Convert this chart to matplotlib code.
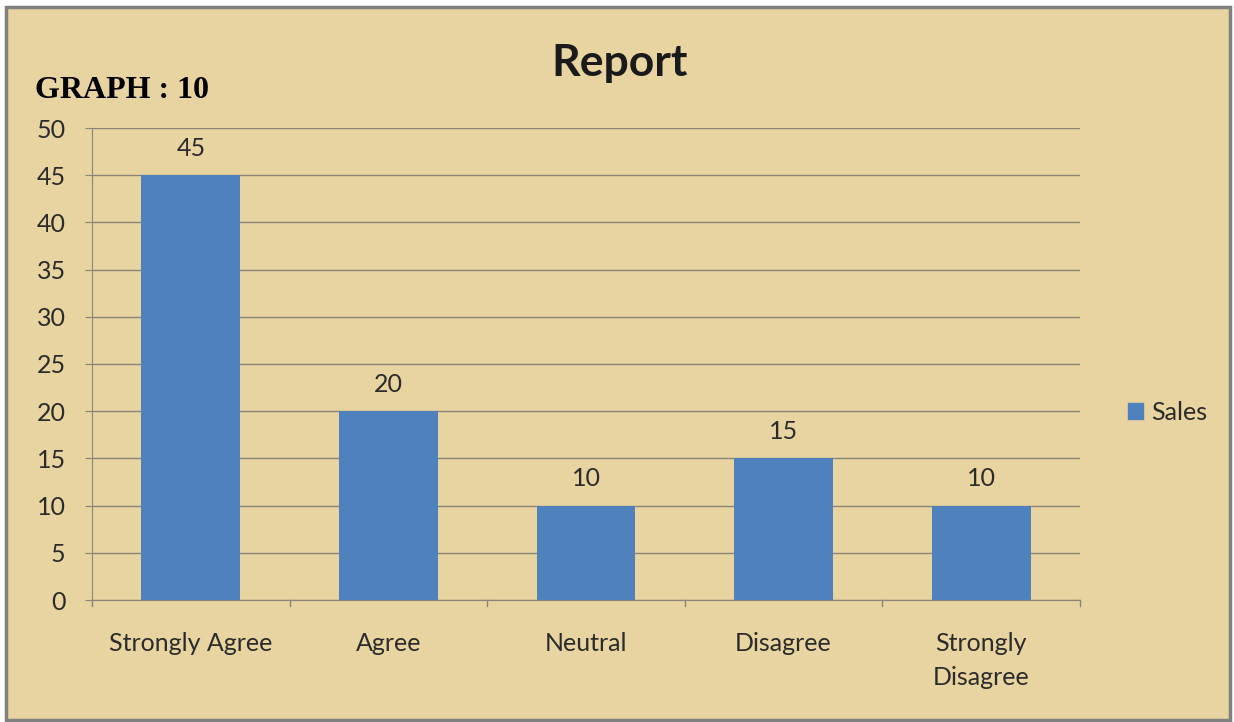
import matplotlib.pyplot as plt
from matplotlib.patches import Rectangle, Patch

# data
categories = ['Strongly Agree', 'Agree', 'Neutral', 'Disagree', 'Strongly\nDisagree']
sales = [45, 20, 10, 15, 10]
y_ticks = [0, 5, 10, 15, 20, 25, 30, 35, 40, 45, 50]

paper = '#e8d4a0'
bar_blue = '#4f81bd'
grid_gray = '#8a8478'
text_col = '#2b2b2b'
fs = 18

plt.rcParams['font.family'] = ['Lato', 'DejaVu Sans']

fig = plt.figure(figsize=(12.34, 7.22), dpi=100, facecolor='white')

# chart area background with gray frame
bg = Rectangle((6 / 1234, 2 / 722), 1224 / 1234, 713 / 722,
               transform=fig.transFigure, facecolor=paper,
               edgecolor='#808080', linewidth=2.5, zorder=-1)
fig.add_artist(bg)

ax = fig.add_axes([92 / 1234, 1 - 600 / 722, 988 / 1234, 472 / 722])
ax.set_facecolor('none')
ax.set_zorder(1)

x = range(len(categories))
bars = ax.bar(x, sales, width=0.5, color=bar_blue, zorder=3)

ax.set_xlim(-0.5, len(categories) - 0.5)
ax.set_ylim(0, 50)
ax.set_yticks(y_ticks)
ax.yaxis.grid(True, color=grid_gray, linewidth=1.0, zorder=1)

for b, v in zip(bars, sales):
    ax.text(b.get_x() + b.get_width() / 2, v + 1.6, str(v), ha='center', va='bottom',
            fontsize=fs, color=text_col)

# category labels between boundary ticks
ax.set_xticks(list(x))
ax.set_xticklabels(categories, fontsize=fs, color=text_col, va='top', linespacing=1.6)
ax.tick_params(axis='x', length=0, pad=23)
for b in [i - 0.5 for i in range(len(categories) + 1)]:
    ax.plot([b, b], [0, -0.012], transform=ax.get_xaxis_transform(), color=grid_gray,
            linewidth=1.0, clip_on=False)

ax.tick_params(axis='y', labelsize=fs, labelcolor=text_col, length=5, color=grid_gray, pad=14)

for side in ['top', 'right']:
    ax.spines[side].set_visible(False)
ax.spines['left'].set_color(grid_gray)
ax.spines['bottom'].set_color(grid_gray)

fig.text(620 / 1234, 1 - 63 / 722, 'Report', ha='center', va='center', fontsize=32,
         fontweight='bold', color='#1a1a1a')
fig.text(35 / 1234, 1 - 90 / 722, 'GRAPH : 10', ha='left', va='center', fontsize=23,
         fontweight='bold', family='Liberation Serif', color='black')

leg = fig.legend(handles=[Patch(color=bar_blue, label='Sales')], loc='center left',
                 bbox_to_anchor=(1105 / 1234, 1 - 412 / 722), frameon=False,
                 fontsize=fs, handlelength=0.6, handleheight=0.6, handletextpad=0.35)
for t in leg.get_texts():
    t.set_color(text_col)

fig.savefig('out.png', dpi=100, facecolor='white')
